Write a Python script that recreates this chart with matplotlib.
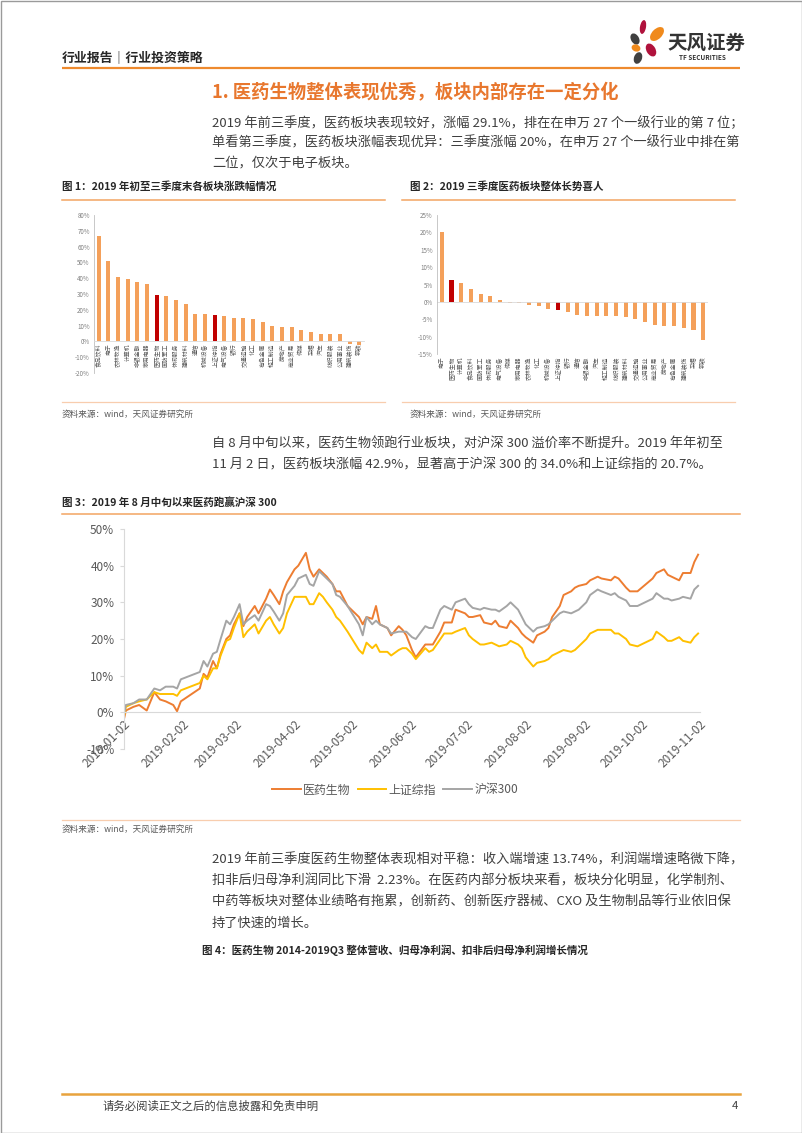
import matplotlib
matplotlib.use('Agg')
import matplotlib.pyplot as plt
from matplotlib.patches import Ellipse, Rectangle
import pandas as pd

plt.rcParams['font.family'] = ['Noto Sans CJK SC', 'DejaVu Sans']

# --- 数据 ---
# 图1：2019 年初至三季度末各板块涨跌幅 (%)
fig1_cats = ['食品饮料', '电子', '农林牧渔', '计算机', '非银金融', '家用电器', '医药生物', '国防军工',
             '休闲服务', '建筑材料', '通信', '机械设备', '上证综指', '电气设备', '银行', '交通运输',
             '化工', '有色金属', '轻工制造', '房地产', '商业贸易', '传媒', '采掘', '汽车',
             '纺织服装', '公用事业', '建筑装饰', '钢铁']
fig1_vals = [66.5, 51, 40.5, 39.5, 37.5, 36.5, 29.1, 28.5, 26, 23.5, 17.5, 17.5, 16.5, 16,
             14.5, 14.5, 14, 12, 10, 9, 9, 7, 6, 5, 4.5, 4.5, -1.5, -2.5]

# 图2：2019 三季度各板块涨跌幅 (%)
fig2_cats = ['电子', '医药生物', '计算机', '食品饮料', '国防军工', '休闲服务', '电气设备', '传媒',
             '家用电器', '农林牧渔', '化工', '机械设备', '上证综指', '银行', '通信', '非银金融',
             '汽车', '轻工制造', '纺织服装', '建筑材料', '交通运输', '公用事业', '商业贸易', '房地产',
             '有色金属', '建筑装饰', '采掘', '钢铁']
fig2_vals = [20.2, 6.3, 5.3, 3.7, 2.2, 1.6, 0.6, -0.2, -0.4, -0.8, -1.2, -2.0, -2.3, -2.8,
             -3.8, -4.0, -4.0, -4.0, -4.0, -4.3, -5.0, -5.7, -6.7, -6.8, -6.9, -7.5, -8.1, -11.0]
highlight = ['医药生物', '上证综指']

# 图3：2019 年以来累计涨幅 (%)
dates = ['2019-01-02', '2019-01-03', '2019-01-07', '2019-01-10', '2019-01-14', '2019-01-16',
         '2019-01-18', '2019-01-21', '2019-01-24', '2019-01-28', '2019-01-30', '2019-02-01',
         '2019-02-11', '2019-02-13', '2019-02-15', '2019-02-18', '2019-02-20', '2019-02-22',
         '2019-02-25', '2019-02-27', '2019-03-01', '2019-03-04', '2019-03-06', '2019-03-08',
         '2019-03-12', '2019-03-14', '2019-03-18', '2019-03-20', '2019-03-22', '2019-03-25',
         '2019-03-27', '2019-03-29', '2019-04-02', '2019-04-04', '2019-04-08', '2019-04-10',
         '2019-04-12', '2019-04-15', '2019-04-17', '2019-04-19', '2019-04-22', '2019-04-24',
         '2019-04-26', '2019-04-30', '2019-05-06', '2019-05-08', '2019-05-10', '2019-05-13',
         '2019-05-15', '2019-05-17', '2019-05-21', '2019-05-23', '2019-05-27', '2019-05-29',
         '2019-05-31', '2019-06-03', '2019-06-05', '2019-06-10', '2019-06-12', '2019-06-14',
         '2019-06-18', '2019-06-20', '2019-06-24', '2019-06-26', '2019-07-01', '2019-07-03',
         '2019-07-05', '2019-07-09', '2019-07-11', '2019-07-15', '2019-07-17', '2019-07-19',
         '2019-07-23', '2019-07-25', '2019-07-29', '2019-07-31', '2019-08-02', '2019-08-06',
         '2019-08-08', '2019-08-12', '2019-08-14', '2019-08-16', '2019-08-20', '2019-08-22',
         '2019-08-26', '2019-08-28', '2019-08-30', '2019-09-03', '2019-09-05', '2019-09-09',
         '2019-09-11', '2019-09-16', '2019-09-18', '2019-09-20', '2019-09-24', '2019-09-26',
         '2019-09-30', '2019-10-08', '2019-10-10', '2019-10-14', '2019-10-16', '2019-10-18',
         '2019-10-22', '2019-10-24', '2019-10-28', '2019-10-30', '2019-11-01']
yiyao = [-1.8, 0.5, 1.5, 2, 0.5, 3, 5.5, 3.5, 3, 2, 0.3, 3,
         6.5, 10.5, 9.5, 14, 12, 16, 20, 21, 24, 27, 23.5, 26,
         29, 27, 31, 33.5, 32, 29.5, 33, 35.5, 39, 40, 43.5, 39,
         37, 39, 38, 37, 35, 33, 33, 29, 26, 24, 26, 25.5,
         29, 24, 23, 21, 23.5, 22.5, 21, 17, 15, 18.5, 18.5, 18.5,
         22, 24.5, 24.5, 28, 27, 26, 26, 26.5, 24.5, 24, 25, 23.5,
         23, 25, 23, 21.5, 20.5, 19, 21, 22, 23, 26, 29, 32,
         33, 34, 34.5, 35, 36, 37, 36.5, 36, 37, 36.5, 34, 33,
         33, 36.5, 38, 39, 37.5, 37, 36, 38, 38, 41, 43]
shzz = [-1.0, 1.5, 2.5, 3, 3.5, 4.5, 5.5, 5, 5, 5, 4.5, 6,
        8, 10, 9, 12, 12, 15.5, 19.5, 20, 23, 27, 20.5, 22,
        24, 21.5, 25, 26, 24, 21.5, 23, 27, 31.5, 31.5, 31.5, 29.5,
        29.5, 32.5, 31.5, 30, 28, 26, 25, 22, 17, 16, 19, 17.5,
        18.5, 16.5, 16.5, 15.5, 17, 17.5, 17.5, 16, 14.5, 17.5, 16.5, 17,
        20, 21.5, 21.5, 22, 23, 21, 20, 18.5, 18.5, 19, 18.5, 18,
        18.5, 19.5, 18.5, 17.5, 15, 12.5, 13.5, 14, 14.5, 15.5, 16.5, 17,
        16.5, 17, 18, 20, 21.5, 22.5, 22.5, 22.5, 21.5, 21.5, 20, 18.5,
        18, 20, 22, 20.5, 19.5, 19.5, 20.5, 19.5, 19, 20.5, 21.5]
hs300 = [-0.5, 2, 2.5, 3.5, 3.5, 5, 6.5, 6, 7, 7, 6.5, 9,
         11, 14, 12.5, 16, 16.5, 20, 25, 24, 26, 29.5, 24, 25,
         26.5, 25, 29.5, 29, 27.5, 25, 27, 32, 34.5, 36.5, 37.5, 35,
         34.5, 38.5, 37.5, 36.5, 35, 32, 31.5, 29, 24, 21, 26, 24,
         25, 24, 23, 21.5, 22, 22, 22, 20.5, 20, 23.5, 23, 23,
         28, 29, 28, 30, 31, 29.5, 28.5, 28, 28.5, 28, 28, 27.5,
         29, 30, 28, 26, 24, 22, 23, 23.5, 24, 25, 27, 27.5,
         27, 27.5, 28, 30, 32, 33.5, 33, 32, 32.5, 31.5, 30.5, 29,
         29, 31, 32.5, 31, 31, 30.5, 31, 31.5, 31, 33.5, 34.5]
series_names = ['医药生物', '上证综指', '沪深300']
series_colors = ['#ED7D31', '#FFC000', '#A5A5A5']
month_ticks = ['2019-01-02', '2019-02-02', '2019-03-02', '2019-04-02', '2019-05-02', '2019-06-02',
               '2019-07-02', '2019-08-02', '2019-09-02', '2019-10-02', '2019-11-02']

W, H = 802, 1133
fig = plt.figure(figsize=(W / 100, H / 100), dpi=100)


def box(x0, y0, x1, y1):
    return [x0 / W, 1 - y1 / H, (x1 - x0) / W, (y1 - y0) / H]


# 页面层（像素坐标）
ov = fig.add_axes([0, 0, 1, 1])
ov.set_xlim(0, W)
ov.set_ylim(H, 0)
ov.axis('off')
ov.add_patch(Rectangle((0.5, 0.5), W - 1, H - 1, fill=False, ec='#9A9A9A', lw=1))

TXT = '#3F3F3F'
ORANGE_T = '#E8772E'

# 页眉
ov.text(62, 58, '行业报告｜行业投资策略', fontsize=9.3, color='#262626', fontweight='bold', va='center')
ov.plot([62, 740], [68, 68], color='#EE8A2E', lw=1.6, solid_capstyle='butt')
petals = [((643, 27), 6, 14, 10, '#B0123C'), ((657, 34), 10, 17, 45, '#F08A1C'),
          ((635, 39), 8, 12, -30, '#404040'), ((636, 48), 9, 7, 20, '#F08A1C'),
          ((651, 50), 9, 14, -30, '#B0123C'), ((638, 58), 8, 12, 20, '#404040')]
for (cx, cy), w, h, ang, col in petals:
    ov.add_patch(Ellipse((cx, cy), w, h, angle=ang, color=col, lw=0))
ov.text(667, 43, '天风证券', fontsize=14, color='#333333', fontweight='bold', va='center')
ov.text(679, 58, 'TF SECURITIES', fontsize=4.6, color='#333333', fontweight='bold', va='center')

# 标题与正文
ov.text(212, 92, '1. 医药生物整体表现优秀，板块内部存在一定分化', fontsize=13.2, color=ORANGE_T,
        fontweight='bold', va='center')
para1 = ['2019 年前三季度，医药板块表现较好，涨幅 29.1%，排在在申万 27 个一级行业的第 7 位；',
         '单看第三季度，医药板块涨幅表现优异：三季度涨幅 20%，在申万 27 个一级行业中排在第',
         '二位，仅次于电子板块。']
for i, line in enumerate(para1):
    ov.text(212, 123 + i * 20, line, fontsize=9.5, color=TXT, va='center')

# 图1 / 图2 标题、分隔线、来源
ov.text(62, 187, '图 1：2019 年初至三季度末各板块涨跌幅情况', fontsize=7.6, color='#262626',
        fontweight='bold', va='center')
ov.text(410, 187, '图 2：2019 三季度医药板块整体长势喜人', fontsize=7.6, color='#262626',
        fontweight='bold', va='center')
for x0, x1 in [(62, 385), (402, 735)]:
    ov.plot([x0, x1], [200, 200], color='#F2A462', lw=1.1)
    ov.plot([x0, x1], [402, 402], color='#F8CDAE', lw=0.9)
ov.text(62, 414, '资料来源：wind，天风证券研究所', fontsize=6.2, color='#595959', va='center')
ov.text(410, 414, '资料来源：wind，天风证券研究所', fontsize=6.2, color='#595959', va='center')

para2 = ['自 8 月中旬以来，医药生物领跑行业板块，对沪深 300 溢价率不断提升。2019 年年初至',
         '11 月 2 日，医药板块涨幅 42.9%，显著高于沪深 300 的 34.0%和上证综指的 20.7%。']
for i, line in enumerate(para2):
    ov.text(212, 444 + i * 21, line, fontsize=9.5, color=TXT, va='center')

ov.text(62, 503, '图 3：2019 年 8 月中旬以来医药跑赢沪深 300', fontsize=7.6, color='#262626',
        fontweight='bold', va='center')
ov.plot([62, 740], [514, 514], color='#F2A462', lw=1.1)
ov.plot([62, 740], [820, 820], color='#F8CDAE', lw=0.9)
ov.text(62, 829, '资料来源：wind，天风证券研究所', fontsize=6.2, color='#595959', va='center')

para3 = ['2019 年前三季度医药生物整体表现相对平稳：收入端增速 13.74%，利润端增速略微下降，',
         '扣非后归母净利润同比下滑  2.23%。在医药内部分板块来看，板块分化明显，化学制剂、',
         '中药等板块对整体业绩略有拖累，创新药、创新医疗器械、CXO 及生物制品等行业依旧保',
         '持了快速的增长。']
for i, line in enumerate(para3):
    ov.text(212, 860 + i * 21, line, fontsize=9.5, color=TXT, va='center')
ov.text(202, 950, '图 4：医药生物 2014-2019Q3 整体营收、归母净利润、扣非后归母净利润增长情况',
        fontsize=7.6, color='#262626', fontweight='bold', va='center')

# 页脚
ov.plot([62, 740], [1094, 1094], color='#E8A33D', lw=1.8)
ov.text(103, 1106, '请务必阅读正文之后的信息披露和免责申明', fontsize=8.2, color='#404040', va='center')
ov.text(738, 1106, '4', fontsize=8.2, color='#404040', va='center', ha='right')


def bar_colors(cats):
    return ['#C00000' if c in highlight else '#F4A05A' for c in cats]


def style_small(ax):
    ax.set_facecolor('none')
    for s in ['top', 'right']:
        ax.spines[s].set_visible(False)
    ax.spines['left'].set_color('#BFBFBF')
    ax.spines['left'].set_linewidth(0.6)
    ax.tick_params(axis='y', labelsize=4.5, labelcolor='#808080', length=0, pad=3)
    ax.tick_params(axis='x', length=0, labelsize=4.2, labelcolor='#595959', pad=1.5)


# 图1（横轴在 0 处，标签紧贴横轴）
ax1 = fig.add_axes(box(94, 215, 364, 373))
ax1.spines['bottom'].set_position(('data', 0))
ax1.spines['bottom'].set_color('#D9D9D9')
ax1.spines['bottom'].set_linewidth(0.6)
ax1.bar(range(len(fig1_cats)), fig1_vals, width=0.42, color=bar_colors(fig1_cats))
ax1.set_xlim(-0.5, len(fig1_cats) - 0.5)
ax1.set_ylim(-20, 80)
ax1.set_yticks(range(-20, 81, 10))
ax1.set_yticklabels([f'{v}%' for v in range(-20, 81, 10)])
ax1.set_xticks(range(len(fig1_cats)))
ax1.set_xticklabels(fig1_cats, rotation=90, va='top')
style_small(ax1)

# 图2（标签在绘图区底部）
ax2 = fig.add_axes(box(437, 215, 708, 354))
ax2.bar(range(len(fig2_cats)), fig2_vals, width=0.42, color=bar_colors(fig2_cats))
ax2.set_xlim(-0.5, len(fig2_cats) - 0.5)
ax2.set_ylim(-15, 25)
ax2.set_yticks(range(-15, 26, 5))
ax2.set_yticklabels([f'{v}%' for v in range(-15, 26, 5)])
ax2.set_xticks(range(len(fig2_cats)))
ax2.set_xticklabels(fig2_cats, rotation=90, va='top')
ax2.spines['bottom'].set_visible(False)
ax2.axhline(0, color='#D9D9D9', lw=0.6)
style_small(ax2)

# 图3
ax3 = fig.add_axes(box(124, 529, 700, 749))
ax3.set_facecolor('none')
ax3.spines['bottom'].set_position(('data', 0))
for s in ['top', 'right']:
    ax3.spines[s].set_visible(False)
for s in ['bottom', 'left']:
    ax3.spines[s].set_color('#D9D9D9')
    ax3.spines[s].set_linewidth(0.8)
d = pd.to_datetime(dates)
for vals, name, col in zip([yiyao, shzz, hs300], series_names, series_colors):
    ax3.plot(d, vals, color=col, lw=1.4, label=name)
ax3.set_xlim(pd.Timestamp('2019-01-02'), pd.Timestamp('2019-11-02'))
ax3.set_ylim(-10, 50)
ax3.set_yticks(range(-10, 51, 10))
ax3.set_yticklabels([f'{v}%' for v in range(-10, 51, 10)])
ax3.set_xticks(pd.to_datetime(month_ticks))
ax3.set_xticklabels(month_ticks, rotation=45, ha='right', va='top', rotation_mode='anchor')
ax3.tick_params(axis='y', labelsize=8.5, labelcolor='#595959', length=3, color='#D9D9D9', pad=4)
ax3.tick_params(axis='x', labelsize=8.5, labelcolor='#595959', length=0, pad=4)
ax3.legend(loc='center', bbox_to_anchor=(395 / W, 1 - 790 / H), bbox_transform=fig.transFigure,
           ncol=3, frameon=False, fontsize=8.6, labelcolor='#595959', handlelength=2.4,
           handletextpad=0.2, columnspacing=0.6)

fig.savefig('out.png', dpi=100)
